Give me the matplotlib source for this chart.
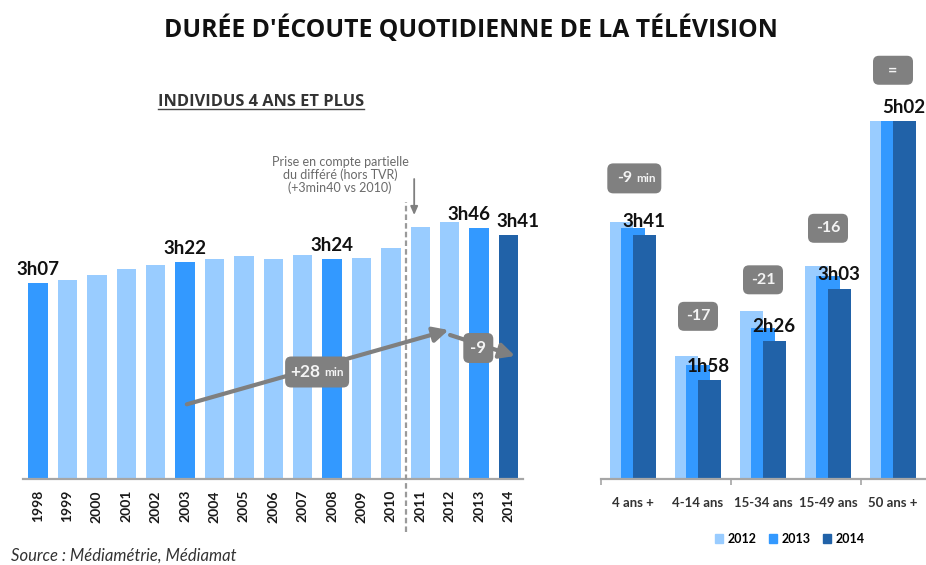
import matplotlib
matplotlib.use("Agg")
import matplotlib.pyplot as plt
import matplotlib.transforms as mtransforms
from matplotlib.patches import FancyBboxPatch, Patch
from matplotlib.lines import Line2D

plt.rcParams['font.family'] = ['Lato', 'DejaVu Sans']

# ---------------- data ----------------
years = [1998, 1999, 2000, 2001, 2002, 2003, 2004, 2005, 2006,
         2007, 2008, 2009, 2010, 2011, 2012, 2013, 2014]
minutes = [187, 189, 193, 197, 200, 202, 204, 206, 204,
           207, 204, 205, 212, 227, 230, 226, 221]
highlight_years = [1998, 2003, 2008, 2013]
labelled_years = [1998, 2003, 2008, 2013, 2014]

groups = ["4 ans +", "4-14 ans", "15-34 ans", "15-49 ans", "50 ans +"]
series_names = ["2012", "2013", "2014"]
v2012 = [230, 135, 167, 199, 302]
v2013 = [226, 129, 155, 192, 302]
v2014 = [221, 118, 146, 183, 302]
evolutions = ["-9", "-17", "-21", "-16", "="]

title = "DURÉE D'ÉCOUTE QUOTIDIENNE DE LA TÉLÉVISION"
subtitle = "INDIVIDUS 4 ANS ET PLUS"
note = "Prise en compte partielle\ndu différé (hors TVR)\n(+3min40 vs 2010)"
source = "Source : Médiamétrie, Médiamat"
total_change = "+28"
recent_change = "-9"

# ---------------- style ----------------
LIGHT = '#99CCFF'
MID = '#3399FF'
DARK = '#2162A8'
GREY = '#808080'
AXIS = '#A6A6A6'

W, H = 926, 565
PXM = 1.41          # pixels per minute
YMIN = 48
BOTTOM_PX = 479
TOP_PX = 40

def hm(v):
    return f"{v // 60}h{v % 60:02d}"

fig = plt.figure(figsize=(W / 100, H / 100), dpi=100)
ylim = (YMIN, YMIN + (BOTTOM_PX - TOP_PX) / PXM)
ax1 = fig.add_axes([23.3 / W, (H - BOTTOM_PX) / H, 500 / W, (BOTTOM_PX - TOP_PX) / H])
ax2 = fig.add_axes([600.5 / W, (H - BOTTOM_PX) / H, 325 / W, (BOTTOM_PX - TOP_PX) / H])

for ax in (ax1, ax2):
    for s in ('left', 'right', 'top'):
        ax.spines[s].set_visible(False)
    ax.spines['bottom'].set_color(AXIS)
    ax.spines['bottom'].set_linewidth(1.6)
    ax.set_yticks([])
    ax.set_facecolor('none')


def badge(ax, x, y, w_px, h_px, parts):
    trans = fig.dpi_scale_trans + mtransforms.ScaledTranslation(x, y, ax.transData)
    p = FancyBboxPatch((-w_px / 200, -h_px / 200), w_px / 100, h_px / 100,
                       boxstyle=f"round,pad=0,rounding_size={6 / 100}",
                       transform=trans, fc=GREY, ec='none', zorder=6)
    ax.add_artist(p)
    p.set_clip_on(False)
    for txt, size, dx in parts:
        ax.annotate(txt, xy=(x, y), xycoords='data', xytext=(dx * 0.72, 0),
                    textcoords='offset points', ha='center', va='center',
                    fontsize=size, color='#F4F4F4', fontweight='bold',
                    annotation_clip=False, zorder=7)


# ---------------- left chart ----------------
x1 = list(range(len(years)))
colors1 = [DARK if y == years[-1] else (MID if y in highlight_years else LIGHT) for y in years]
ax1.bar(x1, minutes, width=0.66, color=colors1, zorder=2)
ax1.set_xlim(-0.5, len(years) - 0.5)
ax1.set_ylim(*ylim)
ax1.set_xticks(x1, [str(y) for y in years], rotation=90, fontsize=10,
               fontweight='bold', color='#1a1a1a')
ax1.tick_params(axis='x', length=0, pad=8)

label_dx = {2013: -10, 2014: 9}
for i, y in enumerate(years):
    if y in labelled_years:
        ax1.annotate(hm(minutes[i]), xy=(i, minutes[i]), xytext=(label_dx.get(y, 0) * 0.72, 6),
                     textcoords='offset points', ha='center', va='baseline',
                     fontsize=13.5, fontweight='bold', color='#111111', zorder=5)

# dashed separator between 2010 and 2011
sep = years.index(2011) - 0.5
ax1.plot([sep, sep], [YMIN - 53 / PXM, YMIN + 277 / PXM], ls=(0, (2.5, 1.4)),
         color='#9A9A9A', lw=1.6, clip_on=False, zorder=3)
ax1.text(10.27, YMIN + 304 / PXM, note, ha='center', va='center', fontsize=9,
         color='#6A6A6A', linespacing=1.0)
ax1.annotate('', xy=(12.79, YMIN + 264 / PXM), xytext=(12.79, YMIN + 300 / PXM),
             arrowprops=dict(arrowstyle='-|>,head_length=0.5,head_width=0.22',
                             color='#7F7F7F', lw=1.3, shrinkA=0, shrinkB=0))

# trend arrows
i03, i12, i14 = years.index(2003), years.index(2012), years.index(2014)
ax1.annotate('', xy=(i12 - 0.04, YMIN + 149 / PXM), xytext=(i03 + 0.06, YMIN + 74.7 / PXM),
             arrowprops=dict(arrowstyle='-|>,head_length=0.9,head_width=0.45',
                             color='#7F7F7F', lw=3, shrinkA=0, shrinkB=0), zorder=4)
ax1.annotate('', xy=(i14 + 0.22, YMIN + 123 / PXM), xytext=(i12 + 0.01, YMIN + 144 / PXM),
             arrowprops=dict(arrowstyle='-|>,head_length=0.9,head_width=0.45',
                             color='#7F7F7F', lw=3, shrinkA=0, shrinkB=0), zorder=4)
badge(ax1, 9.49, YMIN + 107 / PXM, 64, 31, [(total_change, 12.5, -12), ('min', 8.5, 17)])
badge(ax1, 14.97, YMIN + 131 / PXM, 30, 30, [(recent_change, 12, 0)])

# ---------------- right chart ----------------
x2 = list(range(len(groups)))
off = 0.177
bw = 0.354
for vals, c, o in ((v2012, LIGHT, -off), (v2013, MID, 0), (v2014, DARK, off)):
    ax2.bar([x + o for x in x2], vals, width=bw, color=c, zorder=2)
ax2.set_xlim(-0.5, len(groups) - 0.5)
ax2.set_ylim(*ylim)
ax2.set_xticks(x2, groups, fontsize=9.5, fontweight='bold', color='#333333')
ax2.tick_params(axis='x', which='major', length=0, pad=13)
ax2.set_xticks([-0.5, 1.5, 3.5], minor=True)
ax2.tick_params(axis='x', which='minor', length=4, width=1.2, color=AXIS)

for i, v in enumerate(v2014):
    ax2.annotate(hm(v), xy=(i + off, v), xytext=(-0.7, 6), textcoords='offset points',
                 ha='center', va='baseline', fontsize=13.5, fontweight='bold',
                 color='#111111', zorder=5)

badge_gap_px = [44, 40, 31.4, 37.8, 50.6]
for i, ev in enumerate(evolutions):
    yb = v2012[i] + badge_gap_px[i] / PXM
    if i == 0:
        badge(ax2, i + 0.02, yb, 54, 30, [(ev, 11.5, -10), ('min', 8.5, 12)])
    else:
        badge(ax2, i, yb, 40, 29, [(ev, 11.5, 0)])

fig.legend(handles=[Patch(color=c) for c in (LIGHT, MID, DARK)], labels=series_names,
           loc='center', bbox_to_anchor=(790 / W, 1 - 539 / H), ncol=3, frameon=False,
           handlelength=0.65, handleheight=0.65, handletextpad=0.35, columnspacing=1.0,
           prop={'weight': 'bold', 'size': 9})

# ---------------- texts ----------------
fig.text(471 / W, 1 - 29.5 / H, title, ha='center', va='center', fontsize=17.8,
         fontweight='bold', family=['Open Sans', 'DejaVu Sans'], color='#111111')
sub = fig.text(158.3 / W, 1 - 101.7 / H, subtitle, ha='left', va='center', fontsize=11.8,
               fontweight='bold', family=['Open Sans', 'DejaVu Sans'], color='#333333')
fig.canvas.draw()
bb = sub.get_window_extent()
fig.add_artist(Line2D([bb.x0 / W, bb.x1 / W], [(bb.y0 + 1) / H, (bb.y0 + 1) / H],
                      color='#444444', lw=1.0))
fig.text(11 / W, 1 - 561 / H, source, ha='left', va='baseline', fontsize=12,
         style='italic', color='#333333')

fig.savefig('out.png', dpi=100)
